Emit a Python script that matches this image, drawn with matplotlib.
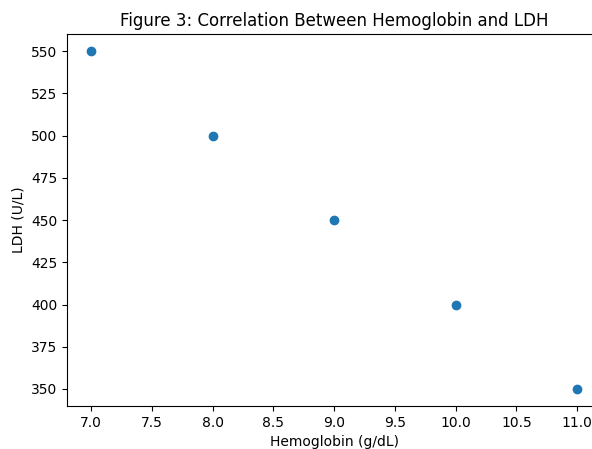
import matplotlib
matplotlib.use("Agg")
import matplotlib.pyplot as plt

# Data
hemoglobin = [7.0, 8.0, 9.0, 10.0, 11.0]
ldh = [550, 500, 450, 400, 350]

fig = plt.figure(figsize=(5.92, 4.49), dpi=100)
# the axes runs past the right edge of the picture, as in the reference crop
ax = fig.add_axes([0.113, 0.096, 0.903, 0.828])

ax.scatter(hemoglobin, ldh)
ax.set_title("Figure 3: Correlation Between Hemoglobin and LDH")
ax.set_xlabel("Hemoglobin (g/dL)")
ax.set_ylabel("LDH (U/L)")
ax.spines["right"].set_visible(False)

fig.savefig("out.png", dpi=100)
